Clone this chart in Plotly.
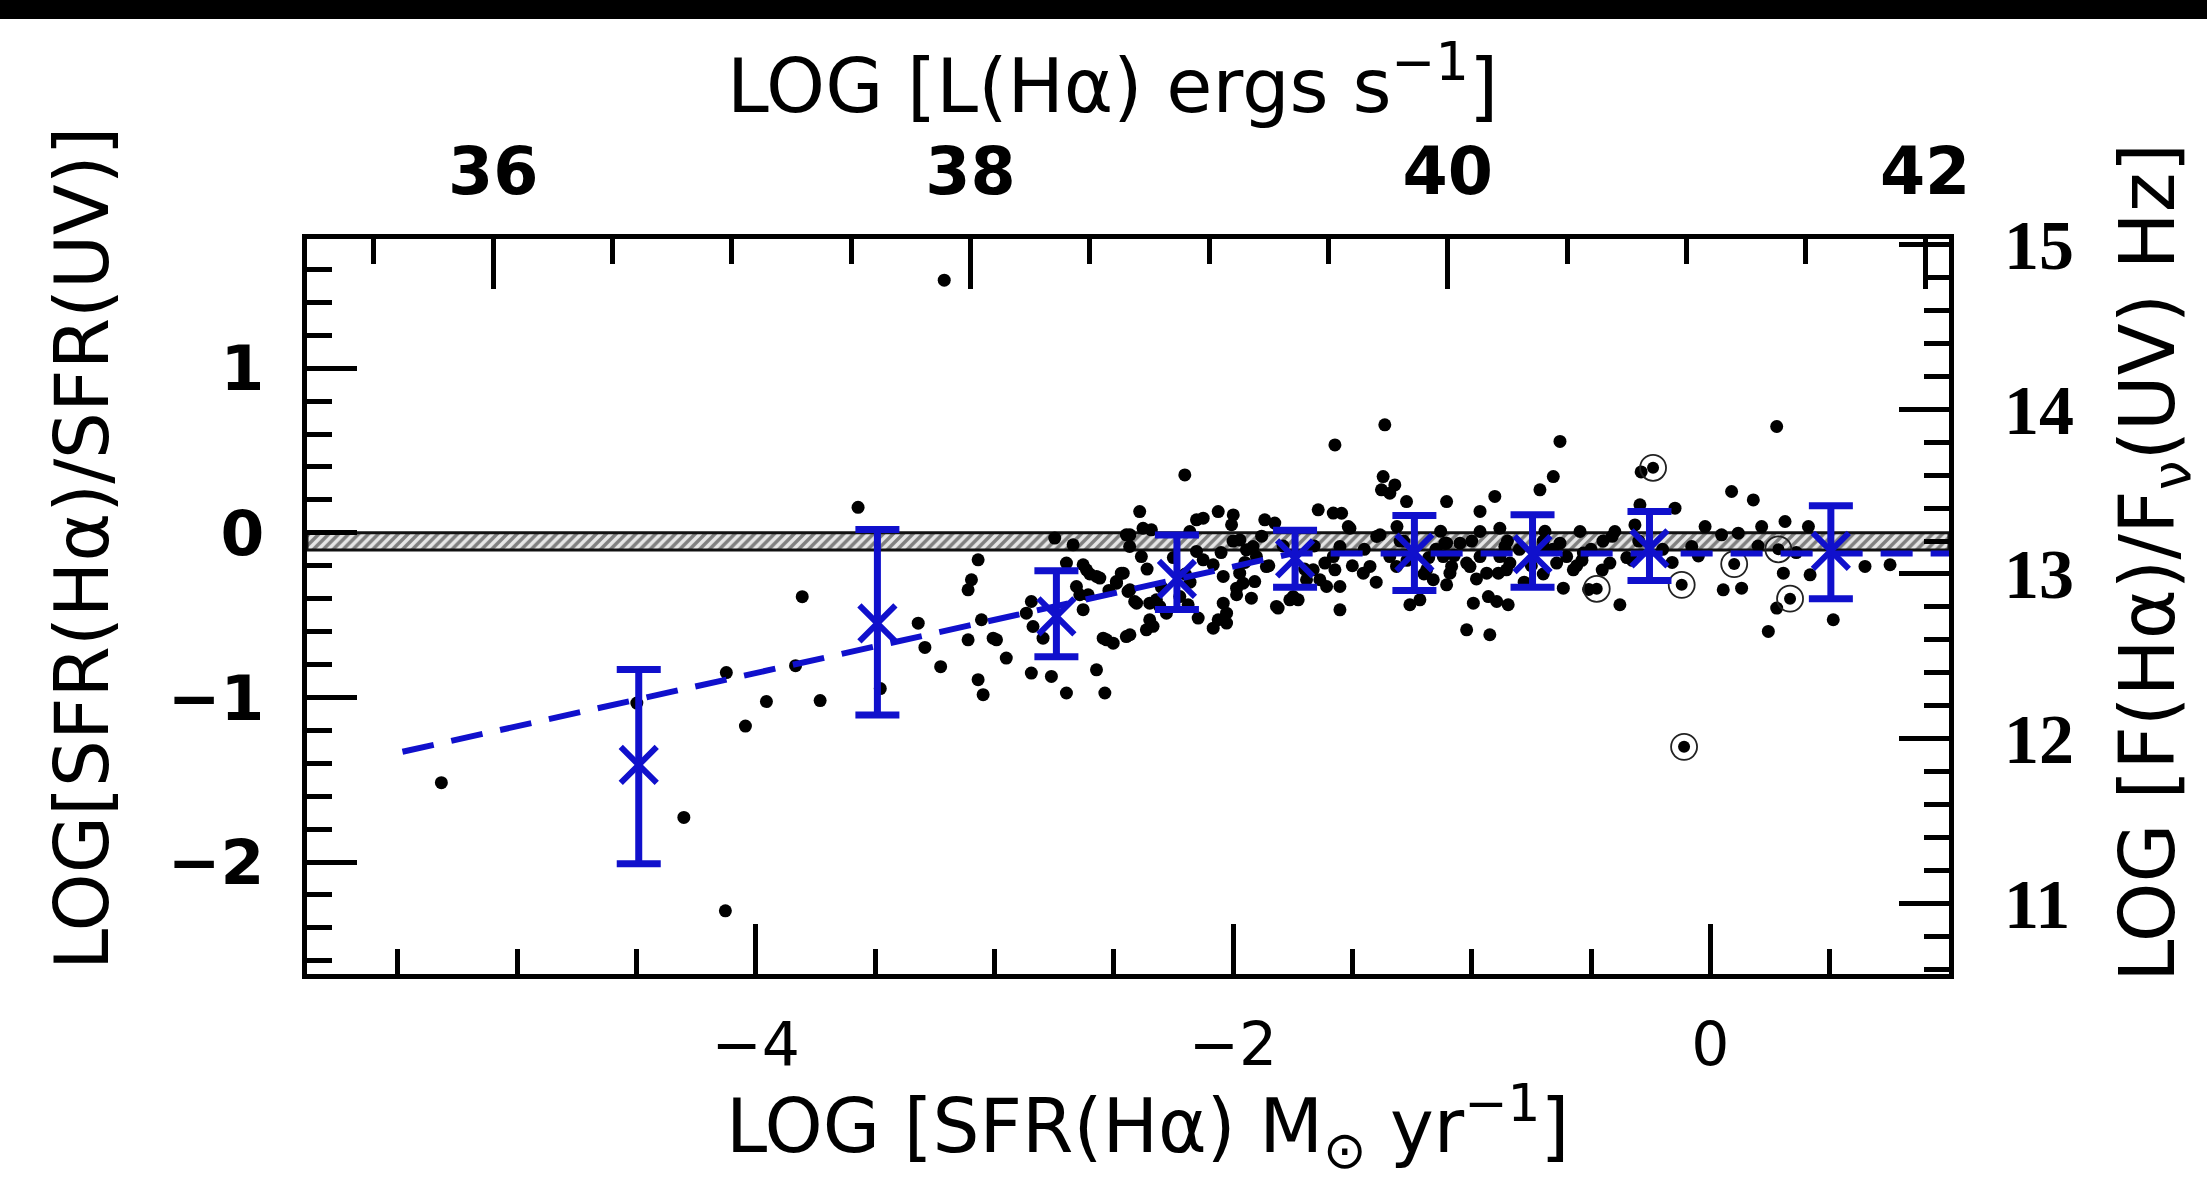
import plotly.graph_objects as go

# ---------------- data ----------------
dots_x = [
    -5.317, -4.498, -4.301, -4.127, -4.123, -4.043, -3.955, -3.805, -3.833, -3.730,
    -3.571, -3.478, -3.21, -3.319, -3.291, -3.225,
    -2.202, -2.391, -2.062, -1.999, -2.125, -2.153, -1.643, -1.867, -1.825, -2.006,
    -2.377, -2.342, -2.747, -2.67, -2.433, -2.384, -3.068, -3.096, -3.11, -2.698,
    -2.628, -2.572, -2.468, -2.489, -2.656, -2.607, -2.628, -2.44, -2.412, -2.349,
    -2.321, -2.153, -2.125, -2.083, -2.041, -1.972, -1.958, -1.909, -1.923, -1.985,
    -2.041, -2.027, -2.062, -2.083, -2.146, -2.188, -2.335, -2.363, -1.811, -1.762,
    -1.727, -1.636, -1.615, -1.916, -2.845, -2.866, -2.838, -2.796, -3.054, -3.005,
    -2.991, -3.11, -2.95, -2.544, -2.502, -2.447, -2.845, -2.761, -2.572, -3.068,
    -3.047, -2.698, -2.537, -2.279, -2.447, -1.79, -1.85, -2.2, -2.25, -2.0,
    -1.364, -1.573, -0.630, -1.371, -1.322, -1.378, -1.343, -1.273, -0.658, -0.714,
    -0.903, -1.105, -0.965, -1.545, -0.295, -1.517, -0.882, -0.965, -0.546, -0.4,
    -0.316, -1.398, -1.105, -1.049, -1.552, -1.58, -1.552, -1.454, -1.426, -1.343,
    -1.315, -1.119, -1.084, -1.021, -0.965, -0.937, -0.882, -0.854, -0.63, -0.602,
    -0.574, -0.616, -0.421, -0.379, -1.217, -1.259, -1.105, -0.993, -0.93, -0.895,
    -0.847, -1.021, -0.924, -1.552, -0.29, -1.313, -1.285, -1.271, -1.13, -1.073,
    -0.693, -0.538, -0.51, -0.453, -0.411, -0.327, -1.5, -1.2, -1.15, -0.8,
    -0.75, -0.7, -0.5, -0.45, -0.35, -0.7, -1.45, -1.3, -1.0, -0.85,
    0.278, 0.089, 0.18, -0.148, -0.022, 0.047, 0.117, 0.215, 0.313, 0.411,
    -0.078, 0.054, 0.131, 0.306, 0.418, 0.278, 0.243, 0.515, 0.648, 0.753,
    -0.16, -0.2,
    -2.30, -2.18, -2.05, -1.95, -1.88, -1.70, -1.66, -2.52, -2.60, -2.36,
    -1.40, -1.18, -0.98, -0.78, -0.66, -0.56, -0.30, -0.05, 0.20, 0.36,
    -2.432, -2.181, -1.971, -1.944, -1.902, -1.985, -2.027, -2.223, -2.307, -2.349,
    -2.432, -2.53, -2.558, -2.614, -2.642, -2.488, -2.46, -2.432, -2.404, -1.86,
    -1.818, -1.748, -1.692, -1.664, -1.58, -1.608,
    -1.51, -1.384, -1.573, -1.189, -1.161, -1.112, -1.091, -1.007, -0.888, -0.84,
    -0.861, -0.7, -0.644, -0.532,
]
dots_y = [
    -1.518, -1.034, -1.729, -2.296, -0.849, -1.174, -1.025, -0.388, -0.807, -1.019,
    0.155, -0.946, 1.535, -0.549, -0.696, -0.813,
    0.352, 0.129, 0.129, 0.109, 0.089, 0.079, 0.14, 0.079, 0.059, 0.049,
    0.028, 0.018, -0.032, -0.073, -0.083, -0.144, -0.164, -0.285, -0.346, -0.184,
    -0.194, -0.265, -0.245, -0.296, -0.326, -0.376, -0.467, -0.356, -0.417, -0.427,
    -0.407, -0.113, -0.164, -0.194, -0.265, -0.245, -0.306, -0.296, -0.397, -0.376,
    -0.427, -0.488, -0.528, -0.579, -0.518, -0.437, -0.568, -0.589, -0.457, -0.407,
    -0.407, -0.285, -0.184, -0.083, -0.417, -0.488, -0.569, -0.64, -0.528, -0.64,
    -0.65, -0.65, -0.761, -0.64, -0.67, -0.63, -0.852, -0.872, -0.832, -0.892,
    -0.983, -0.973, -0.973, -0.488, -0.012, -0.08, -0.2, -0.25, -0.15, -0.05,
    0.656, 0.534, 0.555, 0.342, 0.291, 0.261, 0.241, 0.19, 0.342, 0.261,
    0.221, 0.19, 0.13, 0.119, 0.17, 0.038, 0.028, 0.008, 0.008, 0.008,
    0.048, -0.022, -0.063, -0.063, -0.083, -0.144, -0.326, -0.245, -0.204, -0.144,
    -0.204, -0.144, -0.204, -0.184, -0.144, -0.245, -0.144, -0.225, -0.063, -0.144,
    -0.225, -0.336, -0.184, -0.437, -0.407, -0.437, -0.316, -0.427, -0.387, -0.417,
    -0.437, -0.589, -0.619, -0.468, 0.37, 0.038, -0.05, -0.167, 0.009, -0.138,
    0.009, -0.167, -0.344, -0.226, -0.021, -0.167, -0.2, -0.25, -0.1, -0.1,
    -0.2, -0.05, -0.1, -0.05, -0.15, -0.25, -0.1, -0.05, -0.05, -0.05,
    0.646, 0.251, 0.2, 0.15, 0.038, -0.012, -0.002, 0.038, 0.069, 0.038,
    -0.083, -0.346, -0.336, -0.245, -0.255, -0.457, -0.599, -0.528, -0.204, -0.194,
    -0.18, -0.1,
    -0.33, -0.30, -0.12, -0.18, -0.02, -0.22, -0.08, -0.35, -0.25, -0.22,
    -0.30, -0.15, -0.28, -0.30, -0.10, -0.20, -0.05, -0.14, -0.08, -0.12,
    -0.012, 0.008, -0.043, -0.103, -0.144, -0.336, -0.548, -0.387, -0.447, -0.528,
    -0.619, -0.65, -0.275, -0.225, -0.376, -0.306, -0.245, -0.346, -0.427, -0.205,
    -0.447, -0.387, -0.285, -0.225, 0.12, -0.326,
    0.028, -0.012, -0.225, -0.225, -0.285, -0.063, -0.245, -0.205, -0.245, -0.184,
    -0.083, -0.083, -0.184, -0.123,
]
circ_x = [-0.476, -0.24, -0.12, 0.10, 0.285, 0.334, -0.11]
circ_y = [-0.34, 0.395, -0.316, -0.19, -0.10, -0.40, -1.30]

bin_x = [-4.49, -3.49, -2.74, -2.235, -1.74, -1.24, -0.745, -0.255, 0.505]
bin_y = [-1.41, -0.55, -0.507, -0.28, -0.155, -0.12, -0.13, -0.095, -0.11]
bin_hi = [-0.83, 0.02, -0.23, -0.013, 0.015, 0.105, 0.11, 0.13, 0.165]
bin_lo = [-2.01, -1.107, -0.753, -0.465, -0.33, -0.35, -0.33, -0.29, -0.40]

fit_x = [-5.48, -1.75, 1.0]
fit_y = [-1.33, -0.125, -0.125]

band_lo, band_hi = -0.105, 0.0

x_range = [-5.88, 1.0]
y_range = [-2.68, 1.785]
L_OFFSET = 41.1    # log L(Halpha) = log SFR(Halpha) + 41.1
F_OFFSET = 13.25   # log F(Ha)/Fnu(UV) = log SFR ratio + 13.25

# ---------------- figure ----------------
W, H = 2207, 1193
ML, MR, MT, MB = 307, 258, 239, 219
PW, PH = W - ML - MR, H - MT - MB


def px(xp):
    return (xp - ML) / PW


def py(yp):
    return (H - MB - yp) / PH


BLUE = "#1010cc"
fig = go.Figure()

# hatched band
fig.add_trace(go.Scatter(
    x=[x_range[0], x_range[1], x_range[1], x_range[0], x_range[0]],
    y=[band_lo, band_lo, band_hi, band_hi, band_lo],
    mode="lines", fill="toself", fillcolor="white",
    fillpattern=dict(shape="/", fgcolor="#1a1a1a", bgcolor="#e6e6e6", size=7, solidity=0.5),
    line=dict(color="#111", width=3), hoverinfo="skip", showlegend=False))

# points
fig.add_trace(go.Scatter(x=dots_x, y=dots_y, mode="markers",
                         marker=dict(color="black", size=13, line=dict(width=0)),
                         showlegend=False))
fig.add_trace(go.Scatter(x=circ_x, y=circ_y, mode="markers",
                         marker=dict(color="black", size=12, line=dict(width=0)),
                         showlegend=False))
fig.add_trace(go.Scatter(x=circ_x, y=circ_y, mode="markers",
                         marker=dict(symbol="circle-open", size=26, color="#222",
                                     line=dict(width=1.8, color="#222")),
                         showlegend=False))

# fit line
fig.add_trace(go.Scatter(x=fit_x, y=fit_y, mode="lines",
                         line=dict(color=BLUE, width=6, dash="32px,18px"),
                         showlegend=False))

# binned means with error bars
fig.add_trace(go.Scatter(
    x=bin_x, y=bin_y, mode="markers",
    marker=dict(symbol="x-thin", size=36, color=BLUE, line=dict(width=6, color=BLUE)),
    error_y=dict(type="data", symmetric=False,
                 array=[h - m for h, m in zip(bin_hi, bin_y)],
                 arrayminus=[m - l for m, l in zip(bin_y, bin_lo)],
                 color=BLUE, thickness=7, width=22),
    showlegend=False))

# invisible trace to activate the secondary (top/right) axes
fig.add_trace(go.Scatter(x=[v + L_OFFSET for v in x_range],
                         y=[v + F_OFFSET for v in y_range],
                         xaxis="x2", yaxis="y2", mode="markers",
                         marker=dict(opacity=0), hoverinfo="skip", showlegend=False))

sans = "DejaVu Sans"
axis_common = dict(showgrid=False, zeroline=False, showline=True, linecolor="black",
                   linewidth=5, ticks="inside", ticklen=50, tickwidth=5, tickcolor="black")

fig.update_layout(
    width=W, height=H,
    margin=dict(l=ML, r=MR, t=MT, b=MB, pad=0),
    paper_bgcolor="white", plot_bgcolor="white",
    xaxis=dict(range=x_range, tickmode="array", tickvals=[-4, -2, 0],
               minor=dict(dtick=0.5, tick0=0, ticks="inside", ticklen=25, tickwidth=5,
                          tickcolor="black", showgrid=False),
               tickfont=dict(family=sans, size=60, color="black"),
               ticklabelstandoff=14, **axis_common),
    yaxis=dict(range=y_range, tickmode="array", tickvals=[-2, -1, 0, 1],
               minor=dict(dtick=0.2, tick0=0, ticks="inside", ticklen=25, tickwidth=5,
                          tickcolor="black", showgrid=False),
               tickfont=dict(family=sans, size=63, color="black", weight="bold"),
               ticklabelstandoff=25, **axis_common),
    xaxis2=dict(range=[v + L_OFFSET for v in x_range], overlaying="x", side="top",
                anchor="y", tickmode="array", tickvals=[36, 38, 40, 42],
                minor=dict(dtick=0.5, tick0=36, ticks="inside", ticklen=25, tickwidth=5,
                           tickcolor="black", showgrid=False),
                tickfont=dict(family=sans, size=65, color="black", weight="bold"),
                ticklabelstandoff=14, **axis_common),
    yaxis2=dict(range=[v + F_OFFSET for v in y_range], overlaying="y", side="right",
                anchor="x", tickmode="array", tickvals=[11, 12, 13, 14, 15],
                minor=dict(dtick=0.2, tick0=11, ticks="inside", ticklen=25, tickwidth=5,
                           tickcolor="black", showgrid=False),
                tickfont=dict(family="Liberation Serif", size=70, color="black", weight="bold"),
                ticklabelstandoff=36, **axis_common),
    shapes=[dict(type="rect", xref="paper", yref="paper", x0=px(-10), x1=px(W + 10),
                 y0=py(-10), y1=py(19), fillcolor="black", line=dict(width=0), layer="above")],
    annotations=[
        dict(text="LOG [L(Hα) ergs s<sup>−1</sup>]", xref="paper", yref="paper",
             x=px(1112), y=py(80), xanchor="center", yanchor="middle", showarrow=False,
             font=dict(family=sans, size=75, color="black")),
        dict(text="LOG [SFR(Hα) M<sub>⊙</sub> yr<sup>−1</sup>]", xref="paper", yref="paper",
             x=px(1147), y=py(1126), xanchor="center", yanchor="middle", showarrow=False,
             font=dict(family=sans, size=74, color="black")),
        dict(text="LOG[SFR(Hα)/SFR(UV)]", xref="paper", yref="paper",
             x=px(82), y=py(549), xanchor="center", yanchor="middle", showarrow=False,
             textangle=-90, font=dict(family=sans, size=74, color="black")),
        dict(text="LOG [F(Hα)/F<sub>ν</sub>(UV) Hz]", xref="paper", yref="paper",
             x=px(2153), y=py(563), xanchor="center", yanchor="middle", showarrow=False,
             textangle=-90, font=dict(family=sans, size=76, color="black")),
    ],
)

fig.write_html("out.html")
